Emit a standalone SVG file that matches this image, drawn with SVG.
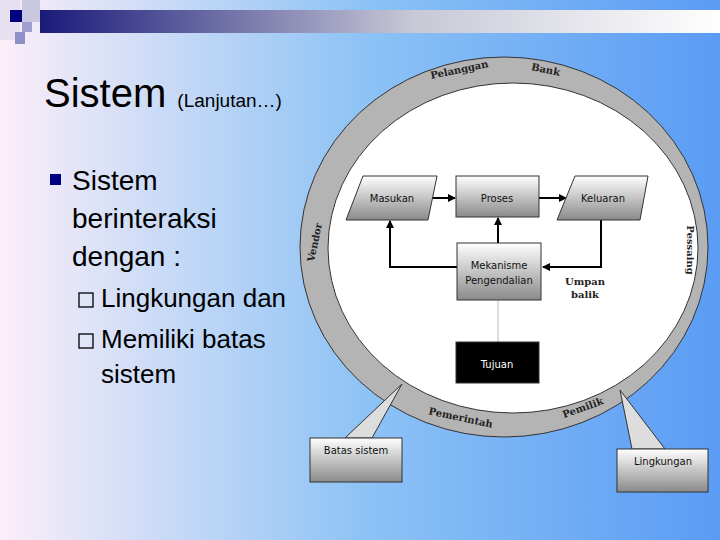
<svg xmlns="http://www.w3.org/2000/svg" width="720" height="540" viewBox="0 0 720 540">
<defs>
<linearGradient id="bg" x1="0" y1="0" x2="1" y2="0"><stop offset="0" stop-color="#fbeef8"/><stop offset="0.5" stop-color="#8ec3f5"/><stop offset="1" stop-color="#5a9cf5"/></linearGradient>
<linearGradient id="bar" x1="0" y1="0" x2="1" y2="0"><stop offset="0" stop-color="#1a1a7a"/><stop offset="0.55" stop-color="#c8c8d6"/><stop offset="1" stop-color="#ffffff"/></linearGradient>
<linearGradient id="box" x1="0" y1="0" x2="0" y2="1"><stop offset="0" stop-color="#ffffff"/><stop offset="1" stop-color="#8a8a8a"/></linearGradient>
<marker id="ah" markerWidth="8" markerHeight="8" refX="7" refY="4" orient="auto" markerUnits="userSpaceOnUse"><path d="M0,0 L8,4 L0,8 z" fill="#000"/></marker>
</defs>
<style>
.b{font-family:"DejaVu Sans",sans-serif;font-size:10px;fill:#111;text-anchor:middle}
.r{font-family:"DejaVu Serif",serif;font-size:10px;font-weight:bold;fill:#222;text-anchor:middle}
.t{font-family:"Liberation Sans",Arial,sans-serif;fill:#000}
.ln{stroke:#000;stroke-width:2;fill:none}
.bx{fill:url(#box);stroke:#333;stroke-width:1}
</style>
<rect width="720" height="540" fill="url(#bg)"/>
<rect x="40" y="10" width="680" height="23" fill="url(#bar)"/>
<rect x="0" y="0" width="20" height="40" fill="#e6e0f0"/>
<rect x="10" y="10" width="12" height="12" fill="#000080"/>
<rect x="22" y="10" width="18" height="12" fill="#c8c8e0"/>
<rect x="22" y="0" width="18" height="10" fill="#c8c8e0"/>
<rect x="22" y="22" width="10" height="10" fill="#a0a0d0"/>
<rect x="15" y="32" width="10" height="12" fill="#9090c8"/>
<text class="t" x="44" y="107" font-size="40">Sistem <tspan font-size="19">(Lanjutan…)</tspan></text>
<rect x="50" y="174" width="11" height="11" fill="#000080"/>
<text class="t" font-size="28"><tspan x="72" y="190">Sistem</tspan><tspan x="72" y="228">berinteraksi</tspan><tspan x="72" y="266">dengan :</tspan></text>
<rect x="79" y="293" width="14" height="14" fill="none" stroke="#000" stroke-width="1.3"/>
<rect x="79" y="334" width="14" height="14" fill="none" stroke="#000" stroke-width="1.3"/>
<text class="t" font-size="26"><tspan x="101" y="307">Lingkungan dan</tspan><tspan x="101" y="348">Memiliki batas</tspan><tspan x="101" y="383">sistem</tspan></text>
<g id="ring">
<ellipse cx="504" cy="247" rx="204" ry="190" fill="#b4b4b4" stroke="#333" stroke-width="1"/>
<ellipse cx="513" cy="248" rx="185" ry="165" fill="#fff" stroke="#333" stroke-width="1"/>
<text class="r" transform="translate(460,73) rotate(-12)">Pelanggan</text>
<text class="r" transform="translate(545,73) rotate(12)">Bank</text>
<text class="r" transform="translate(318,243) rotate(-78)">Vendor</text>
<text class="r" transform="translate(687,250) rotate(90)">Pessaing</text>
<text class="r" transform="translate(460,421) rotate(12)">Pemerintah</text>
<text class="r" font-size="12" transform="translate(584,411) rotate(-20)">Pemilik</text>
</g>
<g id="connectors">
<line class="ln" x1="428" y1="198" x2="455" y2="198" marker-end="url(#ah)"/>
<line class="ln" x1="539" y1="198" x2="566" y2="198" marker-end="url(#ah)"/>
<line class="ln" x1="498" y1="243" x2="498" y2="218" marker-end="url(#ah)"/>
<polyline class="ln" points="457,267 390,267 390,221" marker-end="url(#ah)"/>
<polyline class="ln" points="601,220 601,267 543,267" marker-end="url(#ah)"/>
<line x1="498" y1="300" x2="498" y2="342" stroke="#bbb" stroke-width="1"/>
</g>
<g id="masukan"><polygon class="bx" points="363,176 437,176 428,220 346,220"/><text class="b" x="392" y="202">Masukan</text></g>
<g id="proses"><rect class="bx" x="456" y="176" width="83" height="41"/><text class="b" x="497" y="202">Proses</text></g>
<g id="keluaran"><polygon class="bx" points="575,176 648,176 640,220 557,220"/><text class="b" x="603" y="202">Keluaran</text></g>
<g id="mekanisme"><rect class="bx" x="457" y="243" width="84" height="57"/><text class="b" x="499" y="269">Mekanisme</text><text class="b" x="499" y="284">Pengendalian</text></g>
<g id="tujuan"><rect x="456" y="342" width="83" height="41" fill="#000" stroke="#333"/><text class="b" x="497" y="368" style="fill:#fff">Tujuan</text></g>
<g id="umpan"><text class="r" x="585" y="285">Umpan</text><text class="r" x="585" y="298">balik</text></g>
<g id="batas"><polygon points="345,438 402,384 372,438" fill="#ddd" stroke="#333"/><rect class="bx" x="310" y="438" width="92" height="44"/><text class="b" x="356" y="454">Batas sistem</text></g>
<g id="lingkungan"><polygon points="632,449 620,390 665,449" fill="#ddd" stroke="#333"/><rect class="bx" x="617" y="449" width="91" height="43"/><text class="b" x="663" y="465">Lingkungan</text></g>
</svg>
